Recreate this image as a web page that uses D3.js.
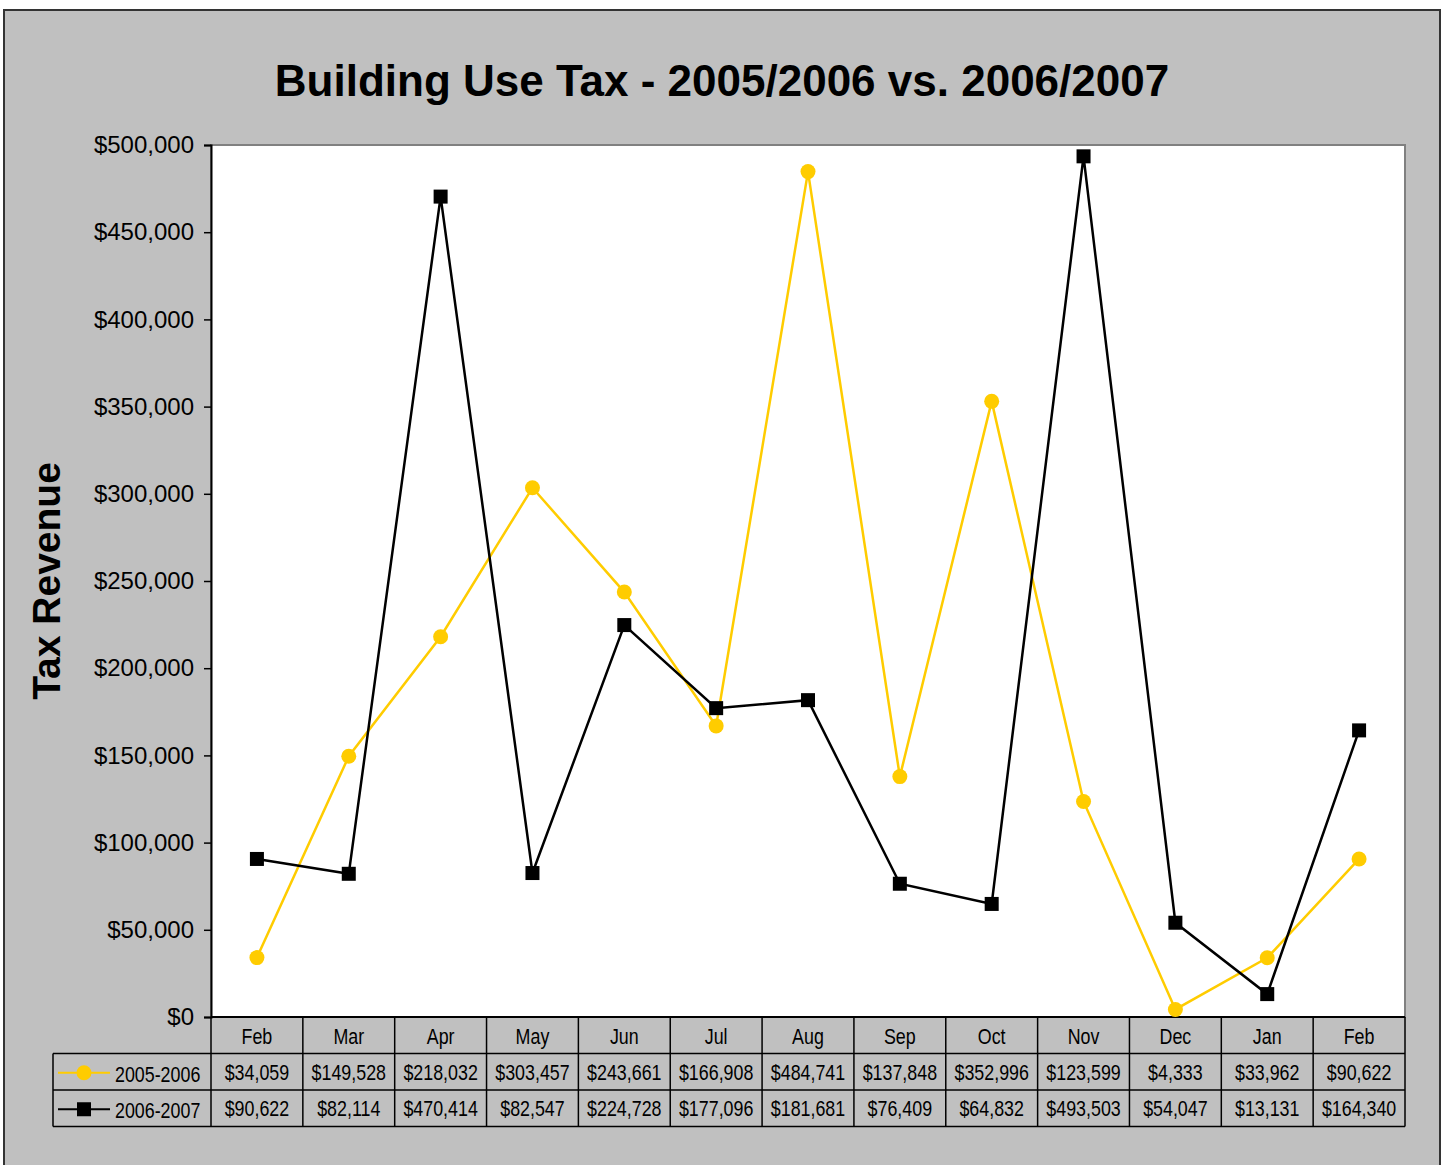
<!DOCTYPE html>
<html>
<head>
<meta charset="utf-8">
<script src="https://cdn.jsdelivr.net/npm/d3@7"></script>
<style>
    body { margin: 0; background: #ffffff; }
    svg text { font-family: Arial, "Liberation Sans", sans-serif; }
</style>
</head>
<body>
<div id="chart-container"></div>
<script>
const months = ["Feb", "Mar", "Apr", "May", "Jun", "Jul", "Aug", "Sep", "Oct", "Nov", "Dec", "Jan", "Feb"];
const tax0506 = [34059, 149528, 218032, 303457, 243661, 166908, 484741, 137848, 352996, 123599, 4333, 33962, 90622];
const tax0607 = [90622, 82114, 470414, 82547, 224728, 177096, 181681, 76409, 64832, 493503, 54047, 13131, 164340];
const seriesNames = ["2005-2006", "2006-2007"];
const yTicks = [0, 50000, 100000, 150000, 200000, 250000, 300000, 350000, 400000, 450000, 500000];

const chartWidth = 1445;
const chartHeight = 1165;
const plotLeft = 211;
const plotRight = 1405;
const plotTop = 145;
const plotBottom = 1017;
const rowHeight = 36.5;
const legendLeft = 53;

// table text is narrow in the original, squeeze it horizontally
const squeeze = 0.83;

const yellow = "#ffcc00";
const money = d => "$" + d3.format(",")(d);

// band per month index, so the two Febs stay apart
const x = d3.scaleBand()
    .domain(months.map((m, i) => i))
    .range([plotLeft, plotRight])
    .padding(0);

const y = d3.scaleLinear()
    .domain([0, 500000])
    .range([plotBottom, plotTop]);

const chart = d3.select("#chart-container").append("svg")
    .attr("width", chartWidth)
    .attr("height", chartHeight);

// outer frame
chart.append("rect")
    .attr("x", 4).attr("y", 10)
    .attr("width", 1436).attr("height", 1170)
    .attr("fill", "#c0c0c0")
    .attr("stroke", "#333")
    .attr("stroke-width", 2);

// plot area
chart.append("rect")
    .attr("x", plotLeft).attr("y", plotTop)
    .attr("width", plotRight - plotLeft).attr("height", plotBottom - plotTop)
    .attr("fill", "#ffffff")
    .attr("stroke", "#808080")
    .attr("stroke-width", 2);

// title
chart.append("text")
    .attr("x", 722).attr("y", 96)
    .attr("text-anchor", "middle")
    .attr("font-size", 44)
    .attr("font-weight", "bold")
    .text("Building Use Tax - 2005/2006 vs. 2006/2007");

// y-axis title
chart.append("text")
    .attr("transform", "translate(60, 581) rotate(-90)")
    .attr("text-anchor", "middle")
    .attr("font-size", 39)
    .attr("font-weight", "bold")
    .text("Tax Revenue");

// y-axis
const yAxis = chart.append("g")
    .attr("transform", `translate(${plotLeft}, 0)`)
    .call(d3.axisLeft(y).tickValues(yTicks).tickFormat(money).tickSize(7).tickPadding(10));
yAxis.select(".domain").attr("stroke", "#000").attr("stroke-width", 2);
yAxis.selectAll(".tick line").attr("stroke", "#000").attr("stroke-width", 1.5);
yAxis.selectAll(".tick text")
    .attr("font-size", 24)
    .attr("fill", "#000")
    .attr("font-family", "Arial, 'Liberation Sans', sans-serif");

// data table
const table = chart.append("g").attr("class", "table");
const rowY = [plotBottom, plotBottom + rowHeight, plotBottom + 2 * rowHeight, plotBottom + 3 * rowHeight];

table.append("line")
    .attr("x1", plotLeft).attr("x2", plotRight)
    .attr("y1", rowY[0]).attr("y2", rowY[0])
    .attr("stroke", "#000").attr("stroke-width", 2);
[1, 2, 3].forEach(r => {
    table.append("line")
        .attr("x1", legendLeft).attr("x2", plotRight)
        .attr("y1", rowY[r]).attr("y2", rowY[r])
        .attr("stroke", "#000").attr("stroke-width", 1.5);
});

const bounds = months.map((m, i) => x(i)).concat([plotRight]);
bounds.forEach(b => {
    table.append("line")
        .attr("x1", b).attr("x2", b)
        .attr("y1", rowY[0]).attr("y2", rowY[3])
        .attr("stroke", "#000").attr("stroke-width", 1.5);
});
table.append("line")
    .attr("x1", legendLeft).attr("x2", legendLeft)
    .attr("y1", rowY[1]).attr("y2", rowY[3])
    .attr("stroke", "#000").attr("stroke-width", 1.5);

function narrowText(sel, cx, cy) {
    sel.attr("transform", `translate(${cx}, ${cy}) scale(${squeeze}, 1)`);
}

table.selectAll(".month")
    .data(months)
    .enter()
    .append("text")
    .attr("class", "month")
    .each(function(d, i) { narrowText(d3.select(this), x(i) + x.bandwidth() / 2, rowY[0] + 27); })
    .attr("text-anchor", "middle")
    .attr("font-size", 21.5)
    .text(d => d);

[tax0506, tax0607].forEach((series, s) => {
    table.selectAll(".val" + s)
        .data(series)
        .enter()
        .append("text")
        .attr("class", "val" + s)
        .each(function(d, i) { narrowText(d3.select(this), x(i) + x.bandwidth() / 2, rowY[s + 1] + 26); })
        .attr("text-anchor", "middle")
        .attr("font-size", 21.5)
        .text(d => money(d));
});

// legend keys inside the table
seriesNames.forEach((name, s) => {
    const cy = rowY[s + 1] + rowHeight / 2 + 1;
    const color = s === 0 ? yellow : "#000";
    table.append("line")
        .attr("x1", 58).attr("x2", 110)
        .attr("y1", cy).attr("y2", cy)
        .attr("stroke", color).attr("stroke-width", 2);
    if (s === 0) {
        table.append("circle").attr("cx", 84).attr("cy", cy).attr("r", 7.5).attr("fill", yellow);
    } else {
        table.append("rect").attr("x", 77).attr("y", cy - 7).attr("width", 14).attr("height", 14).attr("fill", "#000");
    }
    table.append("text")
        .attr("transform", `translate(115, ${rowY[s + 1] + 28}) scale(${squeeze}, 1)`)
        .attr("font-size", 21.5)
        .text(name);
});

// lines
const line = d3.line()
    .x((d, i) => x(i) + x.bandwidth() / 2)
    .y(d => y(d));

chart.append("path")
    .datum(tax0506)
    .attr("d", line)
    .attr("fill", "none")
    .attr("stroke", yellow)
    .attr("stroke-width", 2.5);

chart.append("path")
    .datum(tax0607)
    .attr("d", line)
    .attr("fill", "none")
    .attr("stroke", "#000")
    .attr("stroke-width", 2.5);

chart.selectAll(".dot")
    .data(tax0506)
    .enter()
    .append("circle")
    .attr("class", "dot")
    .attr("cx", (d, i) => x(i) + x.bandwidth() / 2)
    .attr("cy", d => y(d))
    .attr("r", 7.5)
    .attr("fill", yellow);

chart.selectAll(".sq")
    .data(tax0607)
    .enter()
    .append("rect")
    .attr("class", "sq")
    .attr("x", (d, i) => x(i) + x.bandwidth() / 2 - 7)
    .attr("y", d => y(d) - 7)
    .attr("width", 14)
    .attr("height", 14)
    .attr("fill", "#000");
</script>
</body>
</html>
